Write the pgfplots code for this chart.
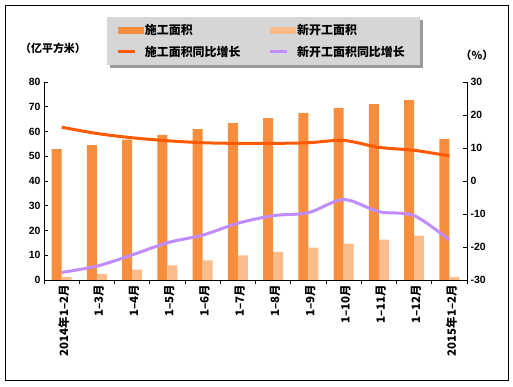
\documentclass[border=0pt]{standalone}
\usepackage{pgfplots}
\pgfplotsset{compat=1.18}
\usepackage{fontspec}
\setmainfont{Liberation Sans}
\newfontfamily\cjk{Noto Sans CJK SC}
\definecolor{barA}{RGB}{247,142,61}
\definecolor{barB}{RGB}{249,188,138}
\definecolor{lineA}{RGB}{255,90,0}
\definecolor{lineB}{RGB}{192,140,255}
\definecolor{legbg}{RGB}{214,214,214}
\pgfplotstableread{
x big new gbig gnew
0 52.9 1.2 16.3 -27.7
1 54.5 2.5 14.4 -25.8
2 56.7 4.2 13.1 -22.4
3 58.6 5.9 12.2 -18.7
4 61.0 7.9 11.6 -16.4
5 63.4 9.9 11.4 -12.8
6 65.4 11.4 11.4 -10.5
7 67.5 13.1 11.6 -9.6
8 69.5 14.7 12.3 -5.6
9 71.1 16.3 10.2 -9.3
10 72.7 17.9 9.3 -10.5
11 57.0 1.2 7.6 -17.9
}\data
\begin{document}
\begin{tikzpicture}
\path[use as bounding box] (0,0) rectangle (513bp,387bp);
\draw[black, line width=1bp] (5bp,6bp) rectangle (508bp,381bp);
\fill[black!40] (110bp,319bp) rectangle (423bp,367bp);
\fill[legbg] (107bp,322bp) rectangle (420bp,370bp);
\begin{axis}[
  at={(44bp,107bp)}, anchor=south west,
  scale only axis, width=423bp, height=198bp,
  xmin=-0.5, xmax=11.5, ymin=0, ymax=80,
  axis y line*=left, axis x line*=bottom,
  axis line style={line width=0.8bp, -},
  ytick={0,10,...,80},
  xtick={0,...,11},
  xticklabels={{\cjk 2014年1–2月},{\cjk 1–3月},{\cjk 1–4月},{\cjk 1–5月},{\cjk 1–6月},{\cjk 1–7月},{\cjk 1–8月},{\cjk 1–9月},{\cjk 1–10月},{\cjk 1–11月},{\cjk 1–12月},{\cjk 2015年1–2月}},
  xticklabel style={rotate=90, anchor=east, font=\bfseries\fontsize{11.5}{11.5}\selectfont, inner sep=1bp},
  x tick label style={yshift=-2bp},
  major x tick style={draw=none},
  minor xtick={-0.5,0.5,...,11.5},
  minor tick length=4bp,
  tick align=inside,
  major tick length=4bp,
  tick style={black, line width=0.8bp},
  /pgf/number format/assume math mode=true,
  yticklabel style={font=\bfseries\fontsize{10.5}{10.5}\selectfont},
  ybar=0pt, bar width=10bp,
]
\addplot[fill=barA, draw=none] table[x=x, y=big] {\data};
\addplot[fill=barB, draw=none] table[x=x, y=new] {\data};
\end{axis}
\begin{axis}[
  at={(44bp,107bp)}, anchor=south west,
  scale only axis, width=423bp, height=198bp,
  xmin=-0.5, xmax=11.5, ymin=-30, ymax=30,
  axis y line*=right, axis x line=none,
  axis line style={line width=0.8bp, -},
  ytick={-30,-20,...,30},
  tick align=inside, major tick length=4bp,
  tick style={black, line width=0.8bp},
  /pgf/number format/assume math mode=true,
  yticklabel style={font=\bfseries\fontsize{10.5}{10.5}\selectfont},
  legend columns=2,
  legend style={at={(0.149,1.328)}, anchor=north west,
    fill=none, draw=none,
    font=\cjk\bfseries\fontsize{12}{12}\selectfont,
    inner xsep=9bp, inner ysep=5bp, row sep=6bp,
    /tikz/every even column/.append style={column sep=26bp}},
  legend cell align=left,
]
\addlegendimage{legend image code/.code={\fill[barA] (0bp,-3bp) rectangle (25bp,3bp);}}
\addlegendentry{施工面积}
\addlegendimage{legend image code/.code={\fill[barB] (0bp,-3bp) rectangle (25bp,3bp);}}
\addlegendentry{新开工面积}
\addplot[lineA, line width=3bp, smooth, no marks] table[x=x, y=gbig] {\data};
\addlegendentry{施工面积同比增长}
\addplot[lineB, line width=3bp, smooth, no marks] table[x=x, y=gnew] {\data};
\addlegendentry{新开工面积同比增长}
\end{axis}
\node[font=\cjk\bfseries\fontsize{11}{11}\selectfont] at (53bp,339bp) {（亿平方米）};
\node[font=\cjk\bfseries\fontsize{11}{11}\selectfont] at (477bp,332bp) {（\%）};
\end{tikzpicture}
\end{document}
